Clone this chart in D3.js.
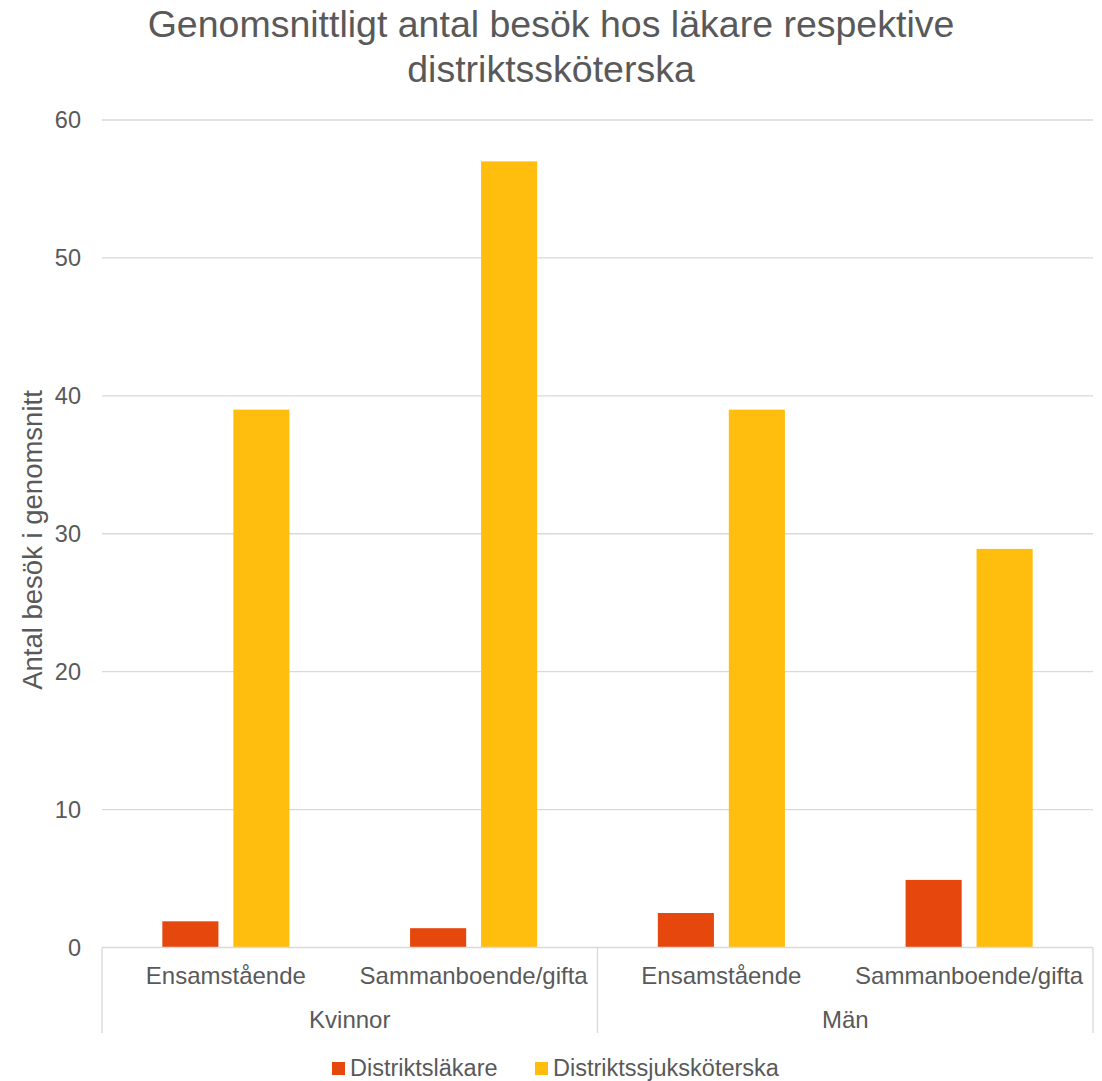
<!DOCTYPE html>
<html>
<head>
<meta charset="utf-8">
<script src="https://cdn.jsdelivr.net/npm/d3@7"></script>
<style>
  html, body { margin: 0; padding: 0; background: #fff; }
  svg { display: block; font-family: "Liberation Sans", Arial, sans-serif; }
</style>
</head>
<body>
<svg id="chart" width="1102" height="1081"></svg>
<script>
// Average visits per category, grouped by sex and household type
const groups = ["Kvinnor", "Män"];
const subcategories = ["Ensamstående", "Sammanboende/gifta"];
const seriesNames = ["Distriktsläkare", "Distriktssjuksköterska"];
const lakareValues = [1.9, 1.4, 2.5, 4.9];
const skoterskaValues = [39, 57, 39, 28.9];
const yTicks = [0, 10, 20, 30, 40, 50, 60];
const colors = ["#E5470D", "#FFBE0E"];

const titleLines = ["Genomsnittligt antal besök hos läkare respektive", "distriktssköterska"];
const yTitle = "Antal besök i genomsnitt";

const svg = d3.select("#chart");
const textColor = "#595959";
const gridColor = "#D9D9D9";

const plot = { left: 102, right: 1093, top: 120, bottom: 947.5 };

// Flattened categories: one per (group, subcategory)
const cats = [];
groups.forEach(g => subcategories.forEach(s => cats.push({ group: g, sub: s, key: g + "|" + s })));
const series = [lakareValues, skoterskaValues];

const x0 = d3.scaleBand().domain(cats.map(c => c.key)).range([plot.left, plot.right]).paddingInner(0).paddingOuter(0);
const x1 = d3.scaleBand().domain(seriesNames).range([0, x0.bandwidth()]).paddingInner(0.21).paddingOuter(0.85);
const y = d3.scaleLinear().domain([0, 60]).range([plot.bottom, plot.top]);

// Gridlines
svg.append("g").selectAll("line").data(yTicks.filter(t => t > 0)).join("line")
  .attr("x1", plot.left).attr("x2", plot.right)
  .attr("y1", d => y(d)).attr("y2", d => y(d))
  .attr("stroke", gridColor).attr("stroke-width", 1.3);

// Y axis tick labels
const yAxis = d3.axisLeft(y).tickValues(yTicks).tickSize(0).tickPadding(21);
const gy = svg.append("g").attr("transform", `translate(${plot.left},0)`).call(yAxis);
gy.select(".domain").remove();
gy.selectAll("text").attr("fill", textColor).style("font-size", "23.5px")
  .style("font-family", "'Liberation Sans', Arial, sans-serif");

// Bars
const barG = svg.append("g");
cats.forEach((c, i) => {
  seriesNames.forEach((s, j) => {
    const v = series[j][i];
    barG.append("rect")
      .attr("x", x0(c.key) + x1(s))
      .attr("width", x1.bandwidth())
      .attr("y", y(v))
      .attr("height", y(0) - y(v))
      .attr("fill", colors[j]);
  });
});

// Category axis: baseline, subcategory labels, group dividers
const axisG = svg.append("g");
axisG.append("line").attr("x1", plot.left).attr("x2", plot.right)
  .attr("y1", plot.bottom).attr("y2", plot.bottom)
  .attr("stroke", gridColor).attr("stroke-width", 1.3);

axisG.selectAll("text.sub").data(cats).join("text")
  .attr("class", "sub")
  .attr("x", d => x0(d.key) + x0.bandwidth() / 2)
  .attr("y", 984)
  .attr("text-anchor", "middle")
  .attr("fill", textColor).style("font-size", "24px")
  .text(d => d.sub);

const groupX = d3.scaleBand().domain(groups).range([plot.left, plot.right]);
const dividers = [plot.left, ...groups.map(g => groupX(g) + groupX.bandwidth())];
axisG.selectAll("line.div").data(dividers).join("line")
  .attr("class", "div")
  .attr("x1", d => d).attr("x2", d => d)
  .attr("y1", plot.bottom).attr("y2", 1033)
  .attr("stroke", gridColor).attr("stroke-width", 1.3);

axisG.selectAll("text.grp").data(groups).join("text")
  .attr("class", "grp")
  .attr("x", d => groupX(d) + groupX.bandwidth() / 2)
  .attr("y", 1028)
  .attr("text-anchor", "middle")
  .attr("fill", textColor).style("font-size", "24px")
  .text(d => d);

// Title
svg.append("text")
  .attr("x", 551).attr("y", 37)
  .attr("text-anchor", "middle")
  .attr("fill", textColor).style("font-size", "37.5px")
  .selectAll("tspan").data(titleLines).join("tspan")
  .attr("x", 551).attr("dy", (d, i) => i === 0 ? 0 : 45)
  .text(d => d);

// Y axis title
svg.append("text")
  .attr("transform", "translate(42,540) rotate(-90)")
  .attr("text-anchor", "middle")
  .attr("fill", textColor).style("font-size", "27.5px")
  .text(yTitle);

// Legend
const legendItems = [
  { name: seriesNames[0], color: colors[0], x: 332 },
  { name: seriesNames[1], color: colors[1], x: 535 }
];
const lg = svg.append("g");
legendItems.forEach(it => {
  lg.append("rect").attr("x", it.x).attr("y", 1062).attr("width", 13).attr("height", 13).attr("fill", it.color);
  lg.append("text").attr("x", it.x + 18).attr("y", 1076)
    .attr("fill", textColor).style("font-size", "23.5px").text(it.name);
});
</script>
</body>
</html>
